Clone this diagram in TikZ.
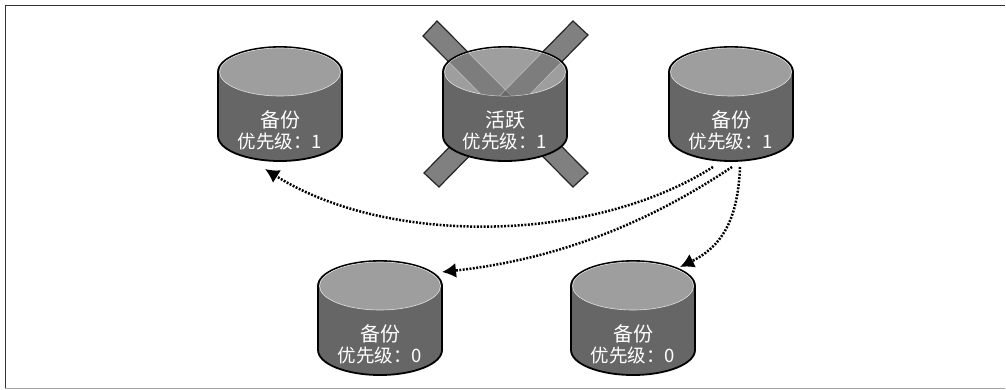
\documentclass[tikz,border=0pt]{standalone}
\usepackage{fontspec}
\newfontfamily\cjk{Noto Sans CJK SC}
\usetikzlibrary{arrows.meta,calc}
\definecolor{sidec}{gray}{0.40}
\definecolor{topc}{gray}{0.62}
\definecolor{xc}{gray}{0.50}
\tikzset{
  x=1pt,y=-1pt,
  frameline/.style={draw=black!80,line width=0.9pt},
  framelow/.style={draw=black!35,line width=0.9pt},
  cylbox/.style={minimum width=124pt,minimum height=114pt,inner sep=0pt,outer sep=0pt},
  cylout/.style={draw=black,line width=1.8pt,fill=sidec},
  cyltop/.style={fill=topc,draw=black!12,line width=0.6pt},
  rolelabel/.style={text=white,inner sep=0pt,font=\cjk\fontsize{20}{20}\selectfont},
  priolabel/.style={text=white,inner sep=0pt,font=\cjk\fontsize{18.5}{18.5}\selectfont},
  xbar/.style={draw=black!85,line width=1.2pt,fill=xc},
  flow/.style={draw=black,line width=2.5pt,dash pattern=on 1.9pt off 1.5pt,-{Latex[length=14pt,width=15pt]}},
}
\newcommand{\dbcyl}[5]{% name, cx, cy, role, priority
  \node[cylbox] (#1) at (#2,#3) {};
  \path[cylout] ($(#1.north west)+(0,25)$)
     arc[start angle=180,end angle=360,x radius=62,y radius=25]
     -- ++(0,64)
     arc[start angle=0,end angle=180,x radius=62,y radius=25]
     -- cycle;
  \path[cyltop] ($(#1.north west)+(1.5,25)$)
     arc[start angle=180,end angle=360,x radius=60.5,y radius=24]
     arc[start angle=0,end angle=180,x radius=60.5,y radius=24] -- cycle;
  \node[rolelabel] at (#2,#3+16) {#4};
  \node[priolabel] at (#2,#3+38) {优先级：#5};
}
\begin{document}
\begin{tikzpicture}
\useasboundingbox (0,0) rectangle (1006,390);
\fill[white] (0,0) rectangle (1006,390);
\coordinate (fa) at (5,5);
\coordinate (fb) at (1005,5);
\coordinate (fc) at (5,388);
\coordinate (fd) at (1005,388);
\draw[frameline] (fb) -- (fa) -- (fc);
\draw[framelow] (fc) -- (fd);
% crossed-out bars behind the active database
\path[xbar] (423,36) -- (437,21) -- (588,173) -- (573,187) -- cycle;
\path[xbar] (588,35) -- (573,21) -- (424,173) -- (439,187) -- cycle;
\dbcyl{b1}{280}{104}{备份}{1}
\dbcyl{act}{505}{104}{活跃}{1}
\dbcyl{b2}{731}{104}{备份}{1}
\dbcyl{b3}{380}{318}{备份}{0}
\dbcyl{b4}{633}{318}{备份}{0}
% bars seen through the active top
\begin{scope}
\clip (505,72) ellipse [x radius=60.5,y radius=24];
\path[fill=black!75,opacity=.35,draw=white,line width=.8pt] (423,36) -- (437,21) -- (588,173) -- (573,187) -- cycle;
\path[fill=black!75,opacity=.35,draw=white,line width=.8pt] (588,35) -- (573,21) -- (424,173) -- (439,187) -- cycle;
\end{scope}
\coordinate (s1) at (713,167);
\coordinate (s2) at (732,167);
\coordinate (s3) at (740,167);
\coordinate (e1) at (265,169);
\coordinate (e2) at (442,272);
\coordinate (e3) at (680,267);
\draw[flow] (s1) .. controls (590,245) and (385,245) .. (e1);
\draw[flow] (s2) .. controls (660,215) and (570,258) .. (e2);
\draw[flow] (s3) .. controls (738,215) and (725,245) .. (e3);
\end{tikzpicture}
\end{document}
